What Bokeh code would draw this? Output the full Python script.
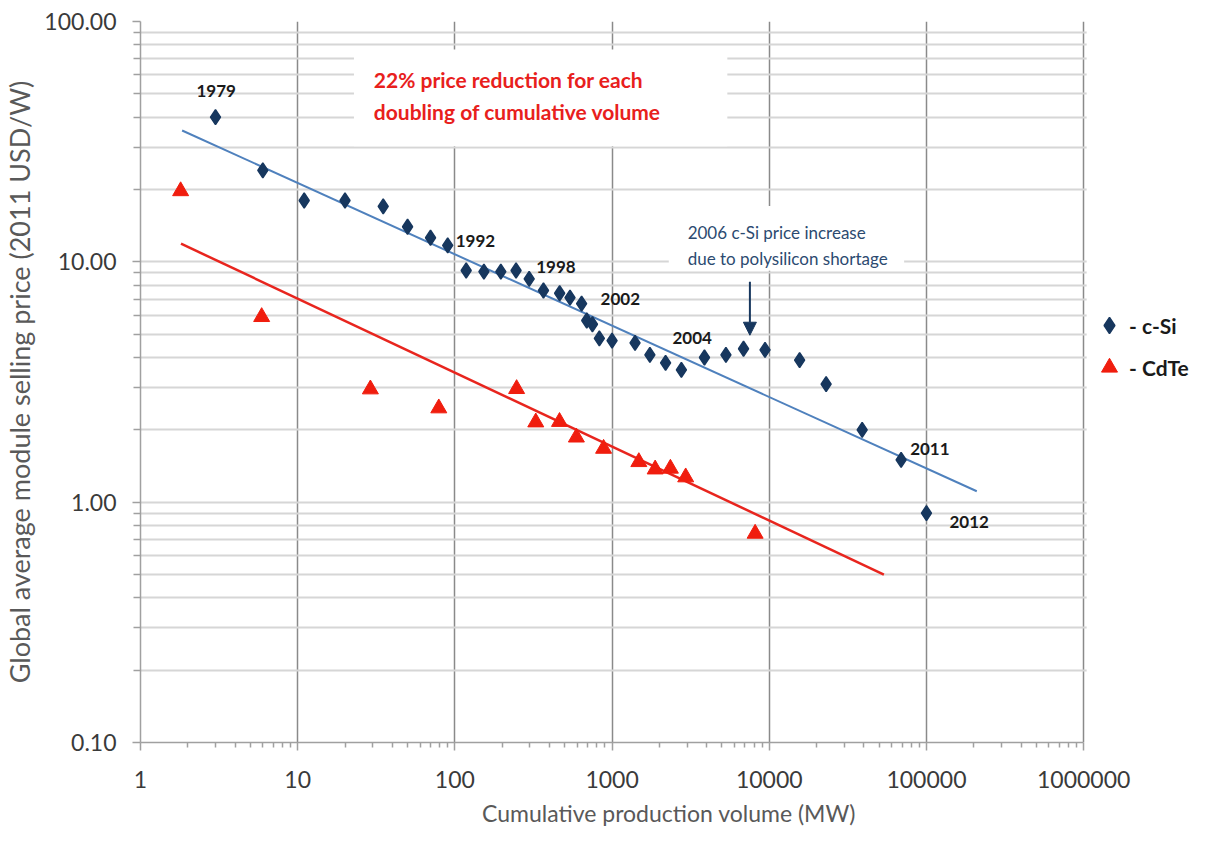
from bokeh.plotting import figure
from bokeh.models import (Range1d, FixedTicker, PrintfTickFormatter, ColumnDataSource,
                          LabelSet, Label, BoxAnnotation, Arrow, NormalHead, Legend, LegendItem)
from bokeh.core.properties import value
from bokeh.embed import file_html
from bokeh.resources import INLINE

# ---------------- data ----------------
csi_volume_mw = [3, 6, 11, 20, 35, 50, 70, 90, 118, 153, 196, 245, 297, 366, 464, 540, 640,
                 690, 750, 830, 1000, 1400, 1740, 2190, 2760, 3870, 5300, 6860, 9400,
                 15600, 23000, 39000, 69000, 100000]
csi_price = [40, 24, 18, 18, 17, 14, 12.6, 11.7, 9.2, 9.1, 9.1, 9.2, 8.5, 7.6, 7.4, 7.1, 6.7,
             5.7, 5.5, 4.8, 4.7, 4.6, 4.1, 3.8, 3.55, 4.0, 4.1, 4.35, 4.3,
             3.9, 3.1, 2.0, 1.5, 0.9]

cdte_volume_mw = [1.8, 5.9, 29, 79, 247, 327, 463, 593, 883, 1480, 1880, 2350, 2940, 8130]
cdte_price = [19.7, 5.9, 2.95, 2.46, 2.96, 2.15, 2.16, 1.86, 1.67, 1.47, 1.37, 1.38, 1.27, 0.74]

# trend (experience-curve) lines: end points
csi_fit_volume = [1.84, 209000]
csi_fit_price = [35.2, 1.11]
cdte_fit_volume = [1.81, 53600]
cdte_fit_price = [11.9, 0.50]

year_labels = ["1979", "1992", "1998", "2002", "2004", "2011", "2012"]
year_point_index = [0, 7, 12, 16, 25, 32, 33]

x_major_ticks = [1, 10, 100, 1000, 10000, 100000, 1000000]
y_major_ticks = [0.1, 1, 10, 100]

# ---------------- styles ----------------
year_offsets = [(-19, 26), (8, 4), (7, 12), (19, 5), (-32, 19), (9, 11), (23, -9)]
FONT = "Lato"
NAVY = "#17375e"
RED = "#f01d0e"

x_minor = [m * 10 ** k for k in range(0, 6) for m in range(2, 10)]
y_minor = [round(m * 10.0 ** k, 3) for k in range(-1, 2) for m in range(2, 10)]

# the frame runs a little past 1e6 so that the legend can sit inside it
p = figure(width=1197, height=830, x_axis_type="log", y_axis_type="log",
           x_range=Range1d(1, 5.3e6), y_range=Range1d(0.1, 100),
           output_backend="svg", toolbar_location=None,
           min_border_left=129, min_border_right=0, min_border_top=21, min_border_bottom=88)
p.outline_line_color = None
p.background_fill_color = "white"
p.border_fill_color = "white"

xt = FixedTicker(ticks=x_major_ticks, minor_ticks=x_minor)
yt = FixedTicker(ticks=y_major_ticks, minor_ticks=y_minor)
p.xaxis.ticker = xt
p.yaxis.ticker = yt
p.xgrid.ticker = xt
p.ygrid.ticker = yt
p.xaxis.formatter = PrintfTickFormatter(format="%d")
p.yaxis.formatter = PrintfTickFormatter(format="%.2f")
p.xaxis.bounds = (1, 1000000)

p.xgrid.grid_line_color = "#8a8a8a"
p.xgrid.grid_line_width = 1.5
p.xgrid.minor_grid_line_color = None
p.ygrid.grid_line_color = "#d6d6d6"
p.ygrid.grid_line_width = 2
p.ygrid.minor_grid_line_color = "#d6d6d6"
p.ygrid.minor_grid_line_width = 2

for ax in (p.xaxis[0], p.yaxis[0]):
    ax.axis_line_color = "#a0a0a0"
    ax.axis_line_width = 1.5
    ax.major_tick_line_color = "#a0a0a0"
    ax.minor_tick_line_color = "#a0a0a0"
    ax.major_tick_line_width = 1.5
    ax.minor_tick_line_width = 1.5
    ax.major_tick_in = 0
    ax.minor_tick_in = 0
    ax.major_tick_out = 8
    ax.major_label_text_font = FONT
    ax.major_label_text_font_size = "23px"
    ax.major_label_text_color = "#3a3a3a"
    ax.axis_label_text_font = FONT
    ax.axis_label_text_font_style = "normal"
    ax.axis_label_text_color = "#595959"

p.xaxis.axis_label_text_font_size = "23px"
p.yaxis.axis_label_text_font_size = "27px"
p.xaxis.minor_tick_out = 5
p.yaxis.minor_tick_out = 7
p.xaxis.major_label_standoff = 20
p.yaxis.major_label_standoff = 16
p.xaxis.axis_label_standoff = 8
p.yaxis.axis_label_standoff = 5
p.xaxis.axis_label = "Cumulative production volume (MW)"
p.yaxis.axis_label = "Global average module selling price (2011 USD/W)"

# white boxes: behind the annotations, and right of the 1e6 gridline (legend area)
p.add_layout(BoxAnnotation(left=22.8, right=5410, top=76.4, bottom=30.3, fill_color="white",
                           fill_alpha=1, line_color=None, level="underlay"))
p.add_layout(BoxAnnotation(left=2295, right=72100, top=17.06, bottom=9.18, fill_color="white",
                           fill_alpha=1, line_color=None, level="underlay"))
p.add_layout(BoxAnnotation(left=1.045e6, fill_color="white", fill_alpha=1, line_color=None,
                           level="underlay"))

# trend lines
p.line(csi_fit_volume, csi_fit_price, line_color="#4f81bd", line_width=2)
p.line(cdte_fit_volume, cdte_fit_price, line_color="#e8251e", line_width=2.5)

# data
r_csi = p.scatter(csi_volume_mw, csi_price, marker="diamond", size=15,
                  fill_color=NAVY, line_color=NAVY, line_width=1.5)
r_cdte = p.scatter(cdte_volume_mw, cdte_price, marker="triangle", size=16,
                   fill_color=RED, line_color=RED, line_width=1)

# year labels
lab_src = ColumnDataSource(dict(
    x=[csi_volume_mw[i] for i in year_point_index],
    y=[csi_price[i] for i in year_point_index],
    text=year_labels,
    xo=[o[0] for o in year_offsets],
    yo=[o[1] for o in year_offsets],
))
p.add_layout(LabelSet(x="x", y="y", text="text", x_offset="xo", y_offset="yo", source=lab_src,
                      text_font=value(FONT), text_font_style="bold", text_font_size="17px",
                      text_color="#1a1a1a", text_baseline="middle", text_align="left"))

# annotations
for txt, yy in (("22% price reduction for each", 57.3), ("doubling of cumulative volume", 42.4)):
    p.add_layout(Label(x=30.5, y=yy, text=txt, text_font=FONT, text_font_style="bold",
                       text_font_size="21px", text_color="#e8201c",
                       text_baseline="middle", text_align="left"))
for txt, yy in (("2006 c-Si price increase", 13.3), ("due to polysilicon shortage", 10.3)):
    p.add_layout(Label(x=3025, y=yy, text=txt, text_font=FONT,
                       text_font_size="17px", text_color="#2c4a70",
                       text_baseline="middle", text_align="left"))
p.add_layout(Arrow(end=NormalHead(size=13, fill_color=NAVY, line_color=NAVY),
                   x_start=7530, y_start=8.26, x_end=7530, y_end=4.95,
                   line_color=NAVY, line_width=2))

# legend (inside the frame, right of the 1e6 gridline)
leg = Legend(items=[LegendItem(label="- c-Si", renderers=[r_csi]),
                    LegendItem(label="- CdTe", renderers=[r_cdte])],
             location=(949, 355), glyph_width=40, glyph_height=40, label_height=30,
             label_standoff=0, spacing=2, padding=0, margin=0,
             border_line_color=None, background_fill_alpha=0,
             label_text_font=FONT, label_text_font_style="bold",
             label_text_font_size="21px", label_text_color="#1a1a1a")
p.add_layout(leg)

open("out.html", "w").write(file_html(p, INLINE))
